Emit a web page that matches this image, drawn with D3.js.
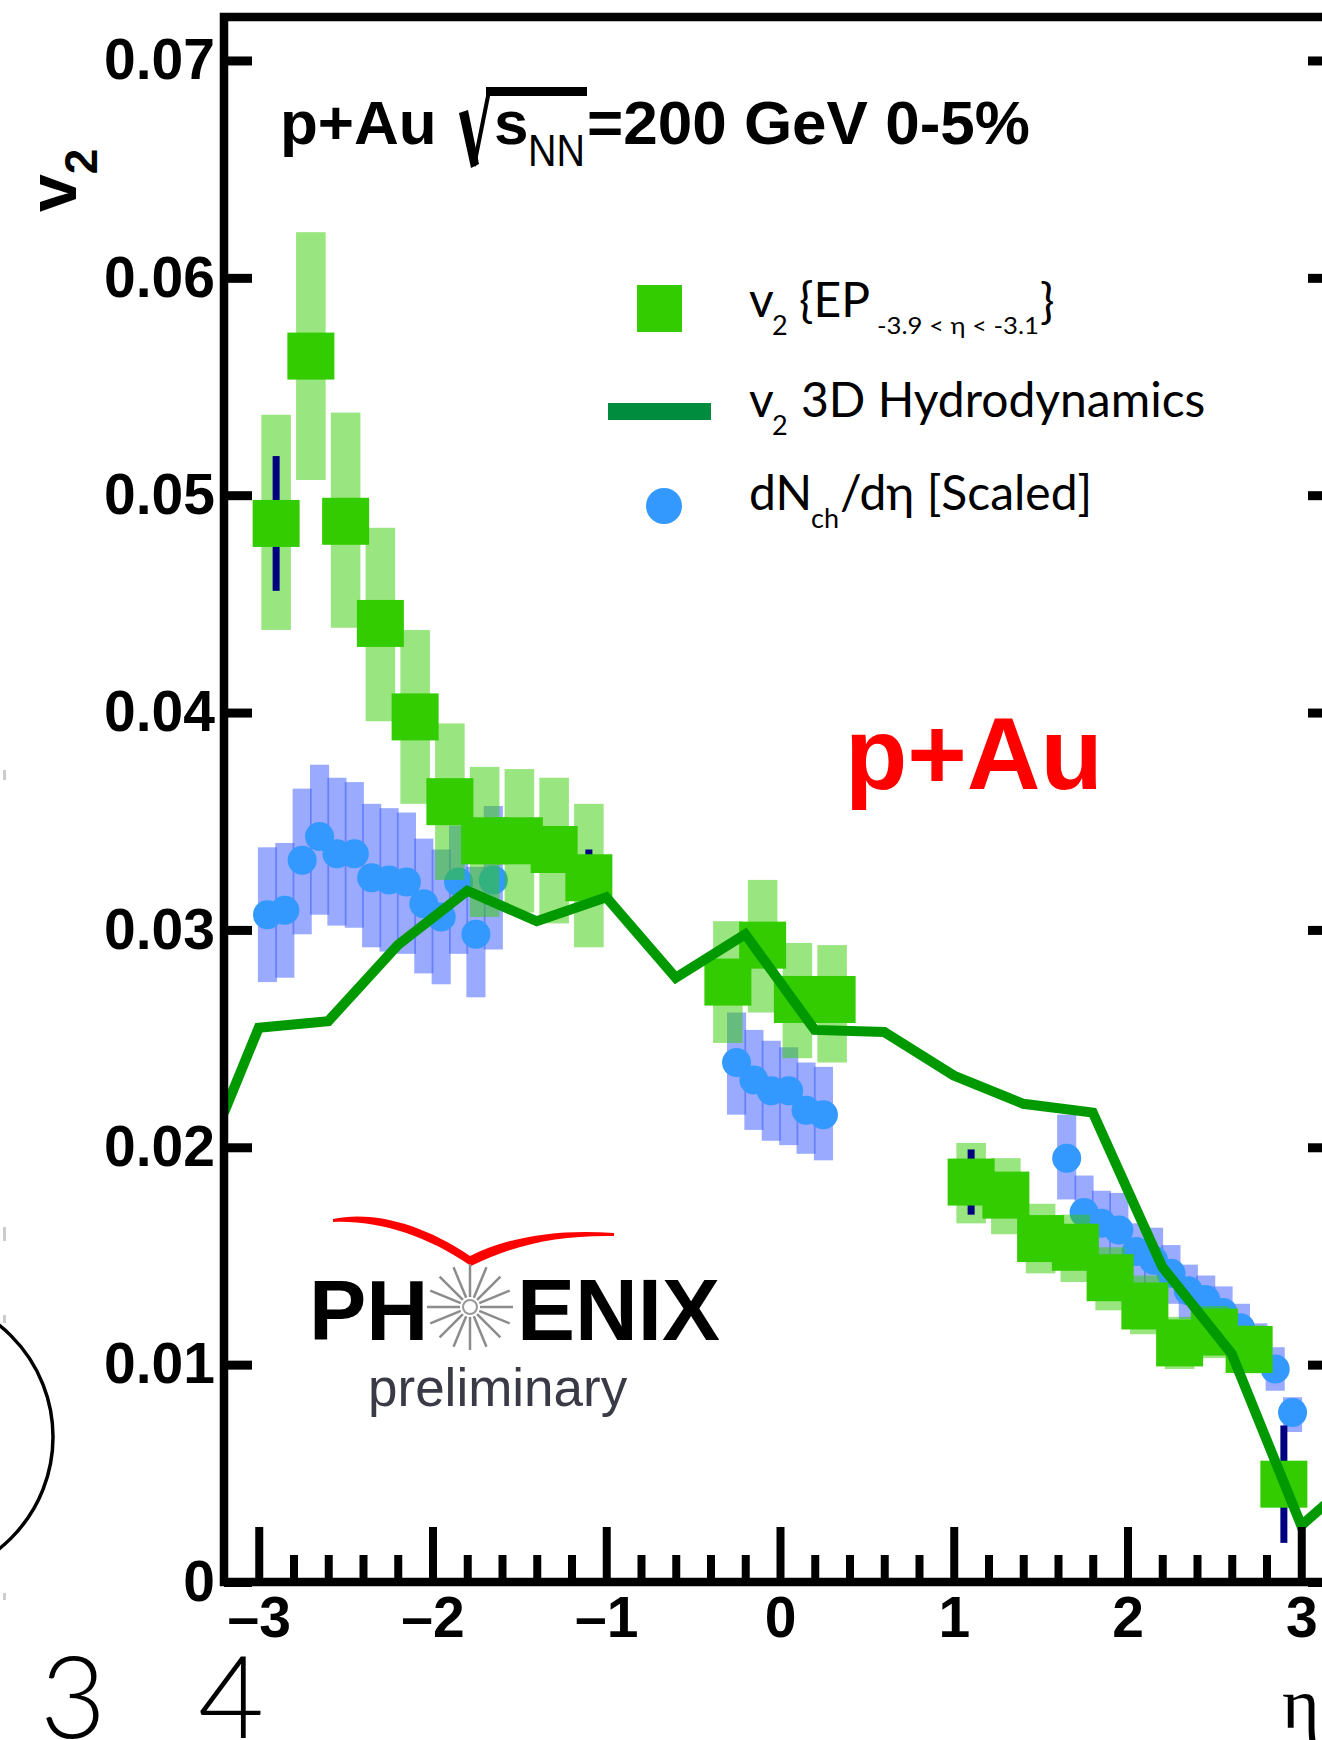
<!DOCTYPE html>
<html>
<head>
<meta charset="utf-8">
<script src="https://cdn.jsdelivr.net/npm/d3@7"></script>
<style>
body { margin: 0; background: #fff; }
svg { display: block; }
</style>
</head>
<body>
<div id="chart"></div>
<script>
// v2{EP} points, green squares with systematic boxes and stat bars
var etaEP = [-2.9, -2.7, -2.5, -2.3, -2.1, -1.9, -1.7, -1.5, -1.3, -1.1,
             -0.3, -0.1, 0.1, 0.3,
             1.1, 1.3, 1.5, 1.7, 1.9, 2.1, 2.3, 2.5, 2.7, 2.9];
var v2EP = [0.0487, 0.0564, 0.0488, 0.0441, 0.0398, 0.0359, 0.0341, 0.0341, 0.0337, 0.0324,
            0.0276, 0.0293, 0.0268, 0.0268,
            0.0184, 0.0178, 0.0158, 0.0154, 0.0140, 0.0127, 0.0110, 0.0115, 0.0107, 0.0045];
var v2EPsysLo = [0.0438, 0.0507, 0.0439, 0.0396, 0.0358, 0.0323, 0.0306, 0.0308, 0.0303, 0.0292,
                 0.0248, 0.0262, 0.0241, 0.0239,
                 0.0165, 0.0160, 0.0142, 0.0138, 0.0125, 0.0114, 0.0098, 0.0103, 0.0096, 0.0040];
var v2EPsysHi = [0.0537, 0.0621, 0.0538, 0.0485, 0.0438, 0.0395, 0.0375, 0.0374, 0.0370, 0.0358,
                 0.0304, 0.0323, 0.0294, 0.0293,
                 0.0202, 0.0195, 0.0174, 0.0169, 0.0154, 0.0141, 0.0122, 0.0127, 0.0118, 0.0050];
var v2EPstat = [0.0031, 0.0008, 0.0008, 0.0008, 0.0008, 0.0008, 0.0008, 0.0008, 0.0008, 0.0013,
                0.0008, 0.0008, 0.0008, 0.0008,
                0.0015, 0.0008, 0.0008, 0.0008, 0.0008, 0.0008, 0.0008, 0.0008, 0.0008, 0.0027];

// dNch/deta (scaled), blue dots with boxes
var etaDN = [-2.95, -2.85, -2.75, -2.65, -2.55, -2.45, -2.35, -2.25, -2.15, -2.05, -1.95, -1.85, -1.75, -1.65,
             -0.25, -0.15, -0.05, 0.05, 0.15, 0.25,
             1.65, 1.75, 1.85, 1.95, 2.05, 2.15, 2.25, 2.35, 2.45, 2.55, 2.65, 2.75, 2.85, 2.95];
var dNdEta = [0.0307, 0.0309, 0.0332, 0.0343, 0.0335, 0.0335, 0.0324, 0.0323, 0.0322, 0.0312, 0.0306, 0.0322, 0.0298, 0.0323,
              0.0239, 0.0231, 0.0226, 0.0226, 0.0217, 0.0215,
              0.0195, 0.0170, 0.0165, 0.0162, 0.0152, 0.0148, 0.0142, 0.0134, 0.0130, 0.0124, 0.0117, 0.0109, 0.0098, 0.0078];
var dNdEtaLo = [0.0276, 0.0278, 0.0298, 0.0307, 0.0302, 0.0301, 0.0292, 0.0290, 0.0289, 0.0280, 0.0275, 0.0289, 0.0269, 0.0291,
                0.0215, 0.0208, 0.0203, 0.0201, 0.0197, 0.0194,
                0.0176, 0.0151, 0.0148, 0.0145, 0.0137, 0.0133, 0.0128, 0.0121, 0.0118, 0.0112, 0.0106, 0.0098, 0.0088, 0.0069];
var dNdEtaHi = [0.0338, 0.0340, 0.0365, 0.0376, 0.0370, 0.0368, 0.0358, 0.0356, 0.0354, 0.0342, 0.0337, 0.0348, 0.0329, 0.0357,
                0.0262, 0.0254, 0.0249, 0.0246, 0.0239, 0.0237,
                0.0215, 0.0187, 0.0180, 0.0179, 0.0165, 0.0163, 0.0155, 0.0146, 0.0141, 0.0136, 0.0128, 0.0119, 0.0108, 0.0085];

// 3D hydrodynamics curve
var etaHydro = [-3.2, -3.0, -2.6, -2.2, -1.8, -1.4, -1.0, -0.6, -0.2, 0.2, 0.6, 1.0, 1.4, 1.8, 2.2, 2.6, 3.0, 3.2];
var v2Hydro = [0.0216, 0.0255, 0.0258, 0.0293, 0.0318, 0.0304, 0.0315, 0.0278, 0.0298, 0.0254, 0.0253, 0.0233, 0.0220, 0.0216, 0.0145, 0.0105, 0.0026, 0.0040];

var yTicks = [0, 0.01, 0.02, 0.03, 0.04, 0.05, 0.06, 0.07];
var yTickLabels = ["0", "0.01", "0.02", "0.03", "0.04", "0.05", "0.06", "0.07"];
var xMajorTicks = [-3, -2, -1, 0, 1, 2, 3];
var xTickLabels = ["\u20133", "\u20132", "\u20131", "0", "1", "2", "3"];

var W = 1322, H = 1740;
var bold = "'Liberation Sans', Arial, Helvetica, sans-serif";

var x = d3.scaleLinear().domain([-3.2, 3.2]).range([224, 1336]);
var y = d3.scaleLinear().domain([0, 0.072]).range([1582, 17]);

var svg = d3.select("#chart").append("svg")
    .attr("width", W)
    .attr("height", H);

svg.append("clipPath").attr("id", "plotclip")
  .append("rect")
    .attr("x", x(-3.2)).attr("y", y(0.072))
    .attr("width", x(3.2) - x(-3.2)).attr("height", y(0) - y(0.072));

var plot = svg.append("g").attr("clip-path", "url(#plotclip)");

var dnHalf = (x(0.055) - x(0)),
    sysHalf = (x(0.085) - x(0)),
    sq = 47;

// blue systematic boxes
plot.append("g").selectAll("rect")
    .data(etaDN)
  .enter().append("rect")
    .attr("x", function(d) { return x(d) - dnHalf; })
    .attr("y", function(d, i) { return y(dNdEtaHi[i]); })
    .attr("width", 2 * dnHalf)
    .attr("height", function(d, i) { return y(dNdEtaLo[i]) - y(dNdEtaHi[i]); })
    .style("fill", "#3355ff")
    .style("opacity", 0.5);

plot.append("g").selectAll("circle")
    .data(etaDN)
  .enter().append("circle")
    .attr("cx", function(d) { return x(d); })
    .attr("cy", function(d, i) { return y(dNdEta[i]); })
    .attr("r", 14.5)
    .style("fill", "#3399ff");

// green systematic boxes
plot.append("g").selectAll("rect")
    .data(etaEP)
  .enter().append("rect")
    .attr("x", function(d) { return x(d) - sysHalf; })
    .attr("y", function(d, i) { return y(v2EPsysHi[i]); })
    .attr("width", 2 * sysHalf)
    .attr("height", function(d, i) { return y(v2EPsysLo[i]) - y(v2EPsysHi[i]); })
    .style("fill", "#33cc00")
    .style("opacity", 0.5);

// stat bars
plot.append("g").selectAll("rect")
    .data(etaEP)
  .enter().append("rect")
    .attr("x", function(d) { return x(d) - 3.5; })
    .attr("y", function(d, i) { return y(v2EP[i] + v2EPstat[i]); })
    .attr("width", 7)
    .attr("height", function(d, i) { return y(v2EP[i] - v2EPstat[i]) - y(v2EP[i] + v2EPstat[i]); })
    .style("fill", "#000080");

plot.append("g").selectAll("rect")
    .data(etaEP)
  .enter().append("rect")
    .attr("x", function(d) { return x(d) - sq / 2; })
    .attr("y", function(d, i) { return y(v2EP[i]) - sq / 2; })
    .attr("width", sq)
    .attr("height", sq)
    .style("fill", "#33cc00");

var line = d3.line()
    .x(function(d) { return x(d); })
    .y(function(d, i) { return y(v2Hydro[i]); });

plot.append("path")
    .datum(etaHydro)
    .attr("d", line)
    .style("fill", "none")
    .style("stroke", "#009900")
    .style("stroke-width", 10)
    .style("stroke-linejoin", "miter");

// frame
svg.append("rect")
    .attr("x", x(-3.2)).attr("y", y(0.072))
    .attr("width", x(3.2) - x(-3.2)).attr("height", y(0) - y(0.072))
    .style("fill", "none")
    .style("stroke", "#000")
    .style("stroke-width", 8.5);

function styleAxis(g, w) {
  g.select(".domain").remove();
  g.selectAll(".tick line").style("stroke", "#000").style("stroke-width", w);
  g.selectAll("text")
      .style("font-family", bold)
      .style("font-weight", "bold")
      .style("font-size", "57px")
      .style("fill", "#000");
}

var yAxis = d3.axisLeft(y)
    .tickValues(yTicks)
    .tickSizeInner(-28)
    .tickSizeOuter(0)
    .tickPadding(9)
    .tickFormat(function(d, i) { return yTickLabels[i]; });

svg.append("g")
    .attr("transform", "translate(" + x(-3.2) + ",0)")
    .call(yAxis)
    .call(styleAxis, 9);

svg.append("g")
    .attr("transform", "translate(" + x(3.2) + ",0)")
    .call(d3.axisRight(y).tickValues(yTicks).tickSizeInner(-28).tickSizeOuter(0).tickFormat(""))
    .call(styleAxis, 9);

svg.append("g")
    .attr("transform", "translate(0," + y(0) + ")")
    .call(d3.axisBottom(x)
        .tickValues(xMajorTicks)
        .tickSizeInner(-55)
        .tickSizeOuter(0)
        .tickPadding(15)
        .tickFormat(function(d, i) { return xTickLabels[i]; }))
    .call(styleAxis, 8);

var xMinor = d3.range(-30, 31, 2).map(function(d) { return d / 10; })
    .filter(function(d) { return Math.round(d) !== d; });

svg.append("g")
    .attr("transform", "translate(0," + y(0) + ")")
    .call(d3.axisBottom(x).tickValues(xMinor).tickSizeInner(-27).tickSizeOuter(0).tickFormat(""))
    .call(styleAxis, 8);

// y title v2
var yt = svg.append("text")
    .attr("transform", "translate(76,212) rotate(-90)")
    .style("font-family", bold).style("font-weight", "bold").style("font-size", "68px");
yt.append("tspan").text("v");
yt.append("tspan").attr("dy", 21).style("font-size", "46px").text("2");

// header
var header = svg.append("g")
    .style("font-family", bold).style("font-weight", "bold").style("font-size", "62px").style("fill", "#000");
header.append("text").attr("x", 280).attr("y", 144).text("p+Au");
header.append("path")
    .attr("d", "M459,113 L468,110 L479,164 L471,168 Z")
    .style("fill", "#000");
header.append("path")
    .attr("d", "M474,166 L489,91 L587,91")
    .style("fill", "none").style("stroke", "#000").style("stroke-width", 4);
header.append("rect").attr("x", 486).attr("y", 87).attr("width", 101).attr("height", 9).style("fill", "#000");
header.append("text").attr("x", 494).attr("y", 144).text("s");
header.append("text").attr("x", 528).attr("y", 166)
    .style("font-weight", "normal").style("font-size", "44px")
    .attr("textLength", 57).attr("lengthAdjust", "spacingAndGlyphs")
    .text("NN");
header.append("text").attr("x", 587).attr("y", 144).text("=200 GeV 0-5%");

// legend
var legendLabels = ["v", "2", "{EP", "-3.9 < \u03b7 < -3.1", "}",
                    "3D Hydrodynamics", "dN", "ch", "/d\u03b7 [Scaled]"];
var lf = "Lato, 'Open Sans', sans-serif";
var legend = svg.append("g").style("font-family", lf).style("fill", "#000");

legend.append("rect").attr("x", 637).attr("y", 285).attr("width", 45).attr("height", 47).style("fill", "#33cc00");
legend.append("rect").attr("x", 608).attr("y", 403).attr("width", 103).attr("height", 17).style("fill", "#008c3e");
legend.append("circle").attr("cx", 664).attr("cy", 506).attr("r", 18).style("fill", "#3399ff");

legend.append("text").attr("x", 749).attr("y", 317).style("font-size", "48px").text(legendLabels[0]);
legend.append("text").attr("x", 772).attr("y", 335).style("font-size", "27px").text(legendLabels[1]);
legend.append("text").attr("x", 799).attr("y", 317).style("font-size", "48px").text(legendLabels[2]);
legend.append("text").attr("x", 877).attr("y", 334).style("font-size", "23px")
    .attr("textLength", 162).attr("lengthAdjust", "spacingAndGlyphs").text(legendLabels[3]);
legend.append("text").attr("x", 1040).attr("y", 318).style("font-size", "48px").text(legendLabels[4]);

legend.append("text").attr("x", 749).attr("y", 417).style("font-size", "48px").text(legendLabels[0]);
legend.append("text").attr("x", 772).attr("y", 435).style("font-size", "27px").text(legendLabels[1]);
legend.append("text").attr("x", 801).attr("y", 417).style("font-size", "48px").text(legendLabels[5]);

legend.append("text").attr("x", 749).attr("y", 510).style("font-size", "48px").text(legendLabels[6]);
legend.append("text").attr("x", 811).attr("y", 528).style("font-size", "27px").text(legendLabels[7]);
legend.append("text").attr("x", 840).attr("y", 510).style("font-size", "48px").text(legendLabels[8]);

// big red label
svg.append("text")
    .attr("x", 845).attr("y", 789)
    .style("font-family", bold).style("font-weight", "bold").style("font-size", "102px")
    .style("fill", "#ff0000")
    .text("p+Au");

// PHENIX logo
var logo = svg.append("g");
logo.append("path")
    .attr("d", "M333,1219 C370,1211 420,1222 470,1256 C510,1236 560,1229 614,1233 L614,1236 C560,1235 515,1244 471,1266 C425,1234 375,1220 333,1222 Z")
    .style("fill", "#ff0000");
logo.append("text").attr("x", 309).attr("y", 1340)
    .style("font-family", bold).style("font-weight", "bold").style("font-size", "86px").text("PH");
logo.append("text").attr("x", 517).attr("y", 1340)
    .style("font-family", bold).style("font-weight", "bold").style("font-size", "87px").text("ENIX");
var rays = d3.range(16);
logo.append("g").selectAll("line")
    .data(rays)
  .enter().append("line")
    .attr("x1", function(d) { return 470 + 10 * Math.cos(d * Math.PI / 8); })
    .attr("y1", function(d) { return 1307 + 10 * Math.sin(d * Math.PI / 8); })
    .attr("x2", function(d) { return 470 + 43 * Math.cos(d * Math.PI / 8); })
    .attr("y2", function(d) { return 1307 + 43 * Math.sin(d * Math.PI / 8); })
    .style("stroke", "#8c8c8c")
    .style("stroke-width", 2.5);
logo.append("circle").attr("cx", 470).attr("cy", 1307).attr("r", 7)
    .style("fill", "#fff").style("stroke", "#999").style("stroke-width", 2);
logo.append("text").attr("x", 368).attr("y", 1406)
    .style("font-family", "'Liberation Sans', Arial, sans-serif").style("font-size", "53px")
    .style("fill", "#3a3a46").text("preliminary");

// bits of neighbouring figure at the edges
svg.append("circle").attr("cx", -90).attr("cy", 1437).attr("r", 143)
    .style("fill", "none").style("stroke", "#000").style("stroke-width", 3.5);
var edgeMarks = [[770, 780], [1227, 1241], [1315, 1323], [1593, 1600]];
svg.append("g").selectAll("rect")
    .data(edgeMarks)
  .enter().append("rect")
    .attr("x", 3).attr("y", function(d) { return d[0]; })
    .attr("width", 3).attr("height", function(d) { return d[1] - d[0]; })
    .style("fill", "#cccccc");
svg.append("text").attr("x", 40).attr("y", 1738)
    .style("font-family", "Lato, 'Liberation Sans', sans-serif").style("font-weight", 300).style("font-size", "114px")
    .text("3");
svg.append("text").attr("x", 198).attr("y", 1738)
    .style("font-family", "Lato, 'Liberation Sans', sans-serif").style("font-weight", 300).style("font-size", "114px")
    .text("4");
svg.append("text").attr("x", 1282).attr("y", 1728)
    .style("font-family", "'Liberation Serif', 'DejaVu Serif', serif").style("font-size", "72px")
    .text("\u03b7");
</script>
</body>
</html>
